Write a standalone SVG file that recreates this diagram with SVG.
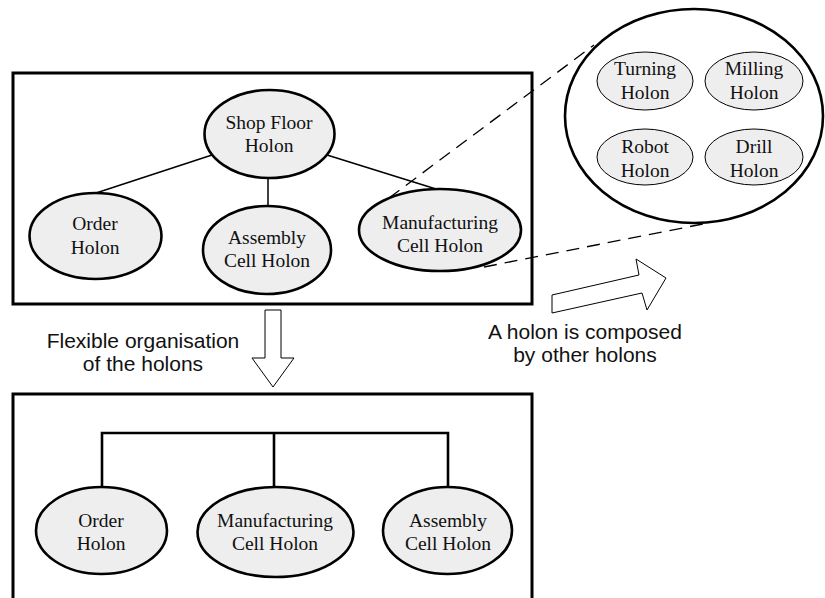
<svg xmlns="http://www.w3.org/2000/svg" width="825" height="598" viewBox="0 0 825 598">
<style>
.frame{fill:none;stroke:#000;stroke-width:3}
.node{fill:#eeeeee;stroke:#000;stroke-width:2.6}
.sub{fill:#eeeeee;stroke:#000;stroke-width:1}
.big{fill:none;stroke:#000;stroke-width:2.6}
.t{font-family:"Liberation Serif","Times New Roman",serif;font-size:19.5px;fill:#111;text-anchor:middle}
.s{font-family:"Liberation Sans",Arial,sans-serif;font-size:21px;fill:#111;text-anchor:middle}
.thin{fill:none;stroke:#000;stroke-width:1.5}
.bus{fill:none;stroke:#000;stroke-width:2.6}
.dash{fill:none;stroke:#000;stroke-width:1.3;stroke-dasharray:13 8}
.arrow{fill:#fff;stroke:#000;stroke-width:1}
</style>
<rect class="frame" x="13" y="73" width="519" height="231"/>
<rect class="frame" x="13" y="394" width="519" height="220"/>
<g id="connectors">
<line class="thin" x1="212" y1="155" x2="96" y2="193"/>
<line class="thin" x1="268" y1="179" x2="268" y2="206"/>
<line class="thin" x1="327" y1="155" x2="436" y2="189"/>
<line class="dash" x1="389" y1="198" x2="594" y2="45"/>
<line class="dash" x1="484" y1="267" x2="713" y2="222"/>
<polyline class="bus" points="102,487 102,433 448,433 448,487"/>
<line class="bus" x1="274" y1="433" x2="274" y2="488"/>
<polygon id="arrow-down" class="arrow" points="265,310 281,310 281,358 294,358 273,387 252,358 265,358"/>
<polygon id="arrow-right" class="arrow" points="552,295 639,275 636,259 666,278 647,310 642,293 552,313"/>
</g>
<g id="shop-floor"><ellipse class="node" cx="269.5" cy="134" rx="65" ry="44"/><text class="t" x="269" y="129">Shop Floor</text><text class="t" x="269" y="152">Holon</text></g>
<g id="order-top"><ellipse class="node" cx="95.5" cy="236" rx="66" ry="43"/><text class="t" x="95" y="230">Order</text><text class="t" x="95" y="254">Holon</text></g>
<g id="assembly-top"><ellipse class="node" cx="267" cy="250" rx="64" ry="44"/><text class="t" x="267" y="244">Assembly</text><text class="t" x="267" y="267">Cell Holon</text></g>
<g id="manufacturing-top"><ellipse class="node" cx="440" cy="230" rx="81" ry="41"/><text class="t" x="440" y="229">Manufacturing</text><text class="t" x="440" y="252">Cell Holon</text></g>
<g id="cell-detail"><ellipse class="big" cx="694" cy="116" rx="129" ry="107"/></g>
<g id="turning"><ellipse class="sub" cx="645" cy="81" rx="48" ry="29"/><text class="t" x="645" y="75">Turning</text><text class="t" x="645" y="99">Holon</text></g>
<g id="milling"><ellipse class="sub" cx="754" cy="81" rx="49" ry="29"/><text class="t" x="754" y="75">Milling</text><text class="t" x="754" y="99">Holon</text></g>
<g id="robot"><ellipse class="sub" cx="645" cy="157" rx="48" ry="28"/><text class="t" x="645" y="153">Robot</text><text class="t" x="645" y="177">Holon</text></g>
<g id="drill"><ellipse class="sub" cx="754" cy="157" rx="49" ry="28"/><text class="t" x="754" y="153">Drill</text><text class="t" x="754" y="177">Holon</text></g>
<g id="order-bottom"><ellipse class="node" cx="101.5" cy="530.5" rx="65.5" ry="43.5"/><text class="t" x="101" y="527">Order</text><text class="t" x="101" y="550">Holon</text></g>
<g id="manufacturing-bottom"><ellipse class="node" cx="275.5" cy="532" rx="78" ry="45"/><text class="t" x="275" y="527">Manufacturing</text><text class="t" x="275" y="550">Cell Holon</text></g>
<g id="assembly-bottom"><ellipse class="node" cx="447.5" cy="530.5" rx="64.5" ry="43.5"/><text class="t" x="448" y="527">Assembly</text><text class="t" x="448" y="550">Cell Holon</text></g>
<g id="labels">
<text class="s" x="143" y="348">Flexible organisation</text>
<text class="s" x="143" y="371">of the holons</text>
<text class="s" x="585" y="339">A holon is composed</text>
<text class="s" x="585" y="362">by other holons</text>
</g>
</svg>
